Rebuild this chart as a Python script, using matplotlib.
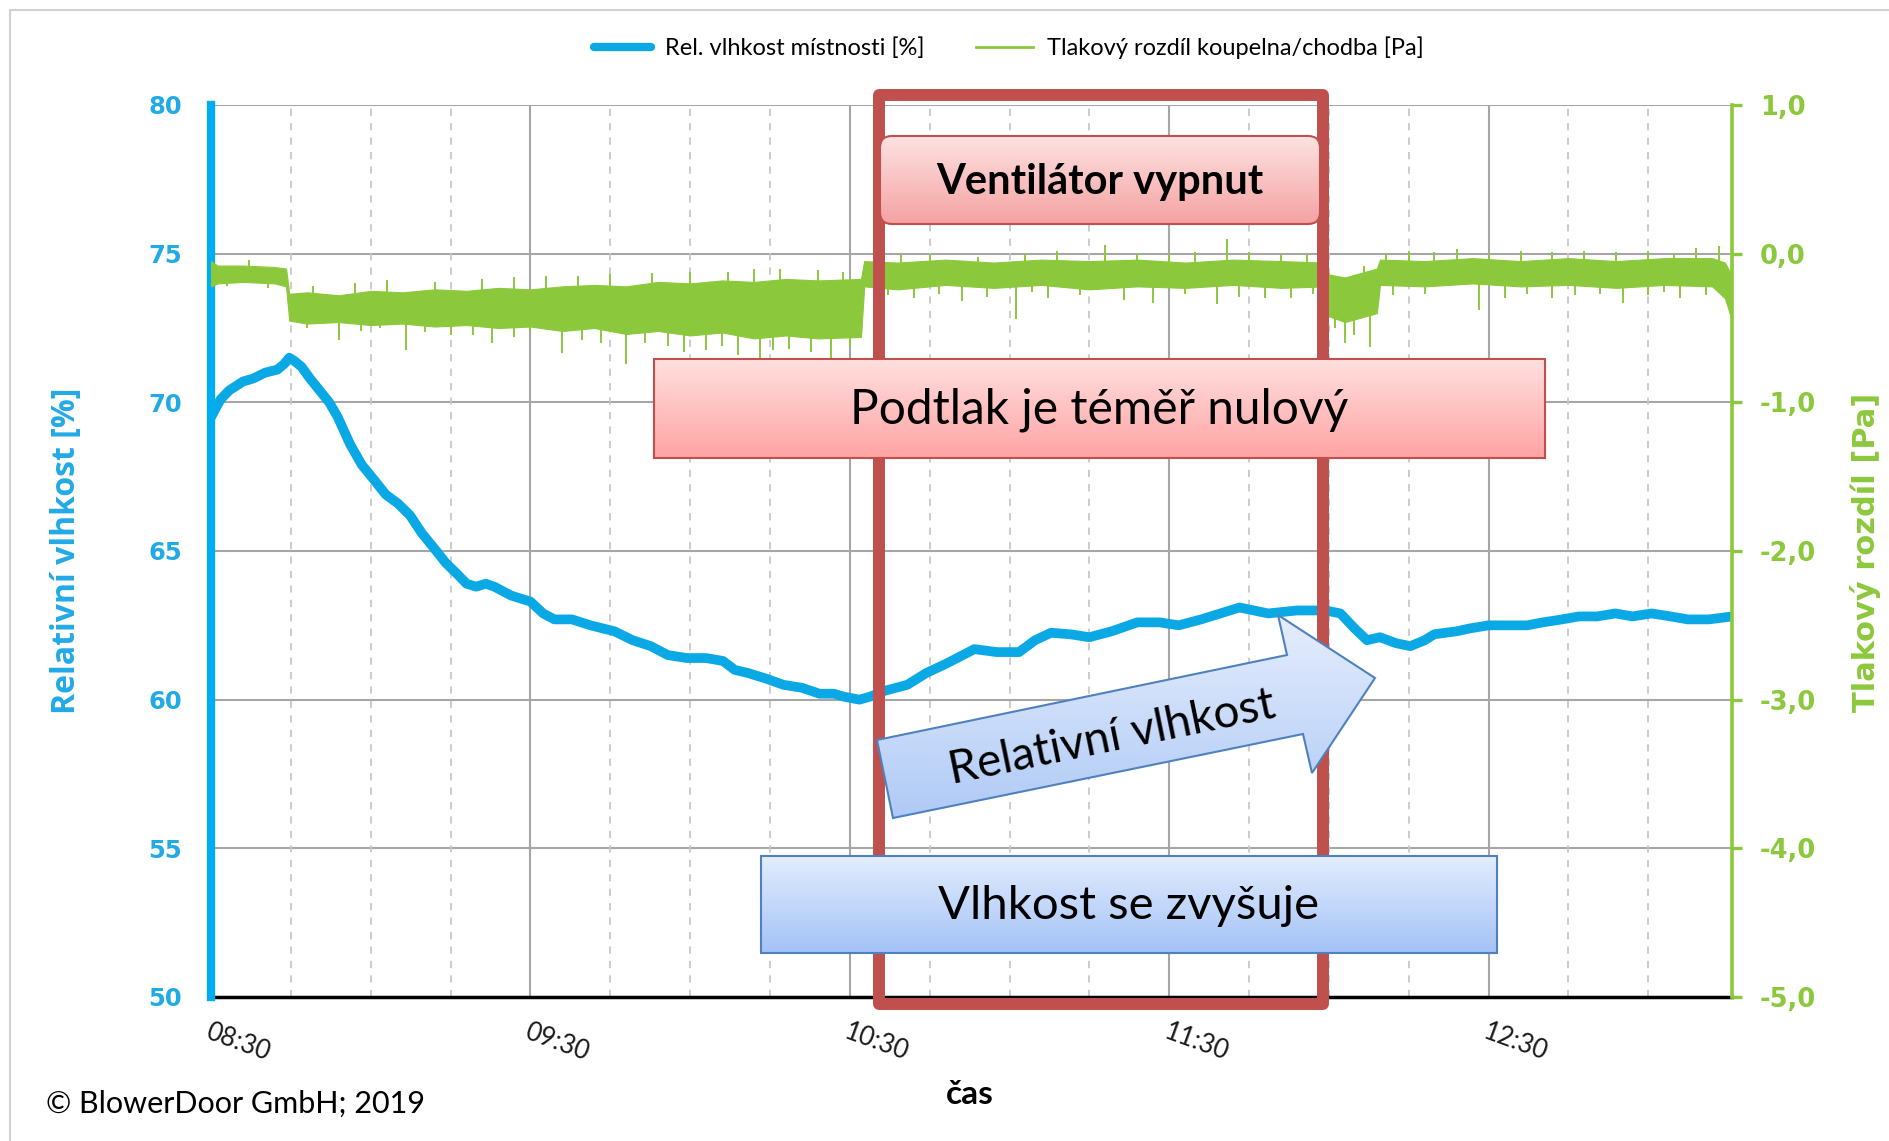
import numpy as np
import matplotlib
matplotlib.use("Agg")
import matplotlib.pyplot as plt
import matplotlib.colors as mcolors
import matplotlib.transforms as mtransforms
from matplotlib.lines import Line2D
from matplotlib.patches import Rectangle, FancyBboxPatch, Polygon

# ---------------- data ----------------
# time in decimal hours, relative humidity in %
rh_time = [8.500, 8.530, 8.557, 8.600, 8.632, 8.670, 8.708, 8.730, 8.745, 8.760,
           8.783, 8.810, 8.840, 8.870, 8.897, 8.935, 8.972, 9.010, 9.047, 9.085,
           9.123, 9.160, 9.198, 9.235, 9.273, 9.300, 9.330, 9.360, 9.387, 9.440,
           9.500, 9.540, 9.575, 9.630, 9.688, 9.763, 9.820, 9.877, 9.930, 9.990,
           10.050, 10.103, 10.140, 10.180, 10.240, 10.292, 10.350, 10.405, 10.450, 10.482,
           10.530, 10.563, 10.610, 10.680, 10.740, 10.800, 10.890, 10.960, 11.030, 11.080,
           11.130, 11.190, 11.250, 11.320, 11.400, 11.470, 11.530, 11.600, 11.660, 11.720,
           11.810, 11.900, 11.990, 12.036, 12.080, 12.119, 12.160, 12.210, 12.255, 12.300,
           12.330, 12.400, 12.443, 12.500, 12.557, 12.620, 12.670, 12.730, 12.783, 12.840,
           12.897, 12.950, 13.010, 13.070, 13.123, 13.190, 13.262]
rh_value = [69.5, 70.1, 70.4, 70.7, 70.8, 71.0, 71.1, 71.3, 71.5, 71.4,
            71.2, 70.8, 70.4, 70.0, 69.5, 68.6, 67.9, 67.4, 66.9, 66.6,
            66.2, 65.6, 65.1, 64.6, 64.2, 63.9, 63.8, 63.9, 63.8, 63.5,
            63.3, 62.9, 62.7, 62.7, 62.5, 62.3, 62.0, 61.8, 61.5, 61.4,
            61.4, 61.3, 61.0, 60.9, 60.7, 60.5, 60.4, 60.2, 60.2, 60.1,
            60.0, 60.1, 60.3, 60.5, 60.9, 61.2, 61.7, 61.6, 61.6, 62.0,
            62.25, 62.2, 62.1, 62.3, 62.6, 62.6, 62.5, 62.7, 62.9, 63.1,
            62.9, 63.0, 63.0, 62.9, 62.4, 62.0, 62.1, 61.9, 61.8, 62.0,
            62.2, 62.3, 62.4, 62.5, 62.5, 62.5, 62.6, 62.7, 62.8, 62.8,
            62.9, 62.8, 62.9, 62.8, 62.7, 62.7, 62.8]

# pressure difference bathroom/corridor [Pa]: noisy band (low / high envelope)
dp_time = [8.500, 8.520, 8.600, 8.700, 8.735,
           8.745, 8.800, 8.900, 9.000, 9.100, 9.200, 9.300, 9.400, 9.500, 9.600,
           9.700, 9.800, 9.900, 10.000, 10.100, 10.200, 10.300, 10.400, 10.535,
           10.545, 10.650, 10.800, 10.950, 11.100, 11.250, 11.400, 11.550, 11.700, 11.850, 11.990,
           12.000, 12.050, 12.100, 12.150,
           12.160, 12.300, 12.450, 12.600, 12.750, 12.900, 13.050, 13.200, 13.240, 13.262]
dp_low = [-0.22, -0.20, -0.19, -0.20, -0.22,
          -0.45, -0.47, -0.46, -0.48, -0.47, -0.49, -0.48, -0.50, -0.49, -0.52,
          -0.50, -0.54, -0.52, -0.55, -0.53, -0.57, -0.55, -0.57, -0.56,
          -0.22, -0.24, -0.21, -0.23, -0.21, -0.24, -0.22, -0.23, -0.21, -0.23, -0.22,
          -0.42, -0.46, -0.43, -0.40,
          -0.21, -0.22, -0.20, -0.22, -0.21, -0.23, -0.21, -0.22, -0.30, -0.45]
dp_high = [-0.05, -0.08, -0.08, -0.09, -0.10,
           -0.27, -0.26, -0.28, -0.25, -0.26, -0.24, -0.25, -0.23, -0.24, -0.22,
           -0.21, -0.22, -0.19, -0.20, -0.18, -0.19, -0.17, -0.18, -0.17,
           -0.05, -0.06, -0.04, -0.06, -0.04, -0.05, -0.04, -0.06, -0.04, -0.05, -0.06,
           -0.14, -0.16, -0.13, -0.10,
           -0.04, -0.05, -0.03, -0.05, -0.03, -0.05, -0.03, -0.03, -0.06, -0.15]
# individual downward spikes of the noisy signal
spike_down_time = [8.55, 8.68, 8.80, 8.85, 8.90, 8.97, 9.03, 9.11, 9.17, 9.25,
                   9.32, 9.38, 9.45, 9.50, 9.60, 9.66, 9.72, 9.80, 9.86, 9.93,
                   9.98, 10.05, 10.10, 10.15, 10.22, 10.26, 10.31, 10.38, 10.44, 10.50,
                   10.62, 10.70, 10.78, 10.85, 10.93, 11.02, 11.07, 11.12, 11.22, 11.36,
                   11.45, 11.55, 11.65, 11.72, 11.80, 11.88, 11.95, 12.02, 12.05, 12.08,
                   12.13, 12.20, 12.30, 12.47, 12.55, 12.62, 12.70, 12.77, 12.85, 12.92,
                   13.00, 13.05, 13.10, 13.18]
spike_down_value = [-0.22, -0.23, -0.50, -0.47, -0.58, -0.52, -0.50, -0.65, -0.53, -0.55,
                    -0.55, -0.60, -0.56, -0.52, -0.67, -0.58, -0.60, -0.74, -0.60, -0.62,
                    -0.66, -0.65, -0.62, -0.68, -0.70, -0.65, -0.64, -0.66, -0.70, -0.63,
                    -0.28, -0.30, -0.27, -0.32, -0.29, -0.44, -0.26, -0.30, -0.28, -0.31,
                    -0.33, -0.27, -0.34, -0.29, -0.30, -0.30, -0.27, -0.50, -0.60, -0.55,
                    -0.63, -0.28, -0.27, -0.38, -0.30, -0.27, -0.30, -0.28, -0.27, -0.33,
                    -0.28, -0.26, -0.30, -0.28]
# individual upward spikes
spike_up_time = [8.62, 8.82, 8.95, 9.05, 9.20, 9.35, 9.45, 9.55, 9.65, 9.75,
                 9.88, 10.00, 10.12, 10.20, 10.28, 10.40, 10.48, 10.60, 10.66, 10.75,
                 10.90, 11.05, 11.15, 11.30, 11.40, 11.50, 11.58, 11.68, 11.75, 11.85,
                 11.93, 12.11, 12.18, 12.25, 12.33, 12.40, 12.50, 12.60, 12.70, 12.80,
                 12.90, 13.00, 13.08, 13.15, 13.22]
spike_up_value = [-0.04, -0.22, -0.20, -0.18, -0.19, -0.17, -0.16, -0.15, -0.15, -0.14,
                  -0.13, -0.12, -0.12, -0.10, -0.10, -0.11, -0.12, 0.00, -0.01, 0.00,
                  -0.02, 0.00, 0.02, 0.06, 0.00, 0.00, 0.01, 0.10, 0.01, -0.01,
                  0.00, -0.08, 0.00, 0.02, 0.01, 0.03, 0.00, 0.02, 0.01, 0.02,
                  0.01, 0.02, 0.00, 0.04, 0.05]

x_tick_pos = [8.5, 9.5, 10.5, 11.5, 12.5]
x_tick_labels = ["08:30", "09:30", "10:30", "11:30", "12:30"]
rh_ticks = [50, 55, 60, 65, 70, 75, 80]
dp_ticks = [-5, -4, -3, -2, -1, 0, 1]
dp_tick_labels = ["-5,0", "-4,0", "-3,0", "-2,0", "-1,0", "0,0", "1,0"]
fan_off_start, fan_off_end = 10.59, 11.98

# ---------------- styling ----------------
BLUE = "#0aa9e6"
BLUE_TXT = "#22aae6"
GREEN = "#8cc83c"
RED = "#c0504d"
CAL = ["Lato", "DejaVu Sans"]
OPEN = ["Open Sans", "DejaVu Sans"]

W, H = 1890, 1141
fig = plt.figure(figsize=(W / 100, H / 100), dpi=100)
L, R, T, B = 211, 1732, 105, 997
ax = fig.add_axes([L / W, 1 - B / H, (R - L) / W, (B - T) / H])
ax2 = ax.twinx()
ax.set_xlim(8.5, 13.262)
ax.set_ylim(50, 80)
ax2.set_ylim(-5, 1)
ax2.patch.set_visible(False)

# grid
for y in rh_ticks[1:]:
    ax.axhline(y, color="#a6a6a6", lw=1.5, zorder=0)
for h in np.arange(8.75, 13.25, 0.25):
    if abs(h - round(h - 0.5) - 0.5) < 1e-6:
        ax.axvline(h, color="#a6a6a6", lw=1.5, zorder=0)
    else:
        ax.axvline(h, color="#c8c8c8", lw=1.3, ls=(0, (4, 4)), zorder=0)

# pressure series
mid = [(a + b) / 2 for a, b in zip(dp_low, dp_high)]
ax2.fill_between(dp_time, dp_low, dp_high, color=GREEN, lw=0.8, zorder=2)
ax2.plot(dp_time, mid, color=GREEN, lw=1.0, zorder=2)
ax2.vlines(spike_down_time, np.interp(spike_down_time, dp_time, mid), spike_down_value,
           color=GREEN, lw=1.4, zorder=2)
ax2.vlines(spike_up_time, np.interp(spike_up_time, dp_time, mid), spike_up_value,
           color=GREEN, lw=1.4, zorder=2)

# humidity series
ax.plot(rh_time, rh_value, color=BLUE, lw=7, solid_capstyle="round",
        solid_joinstyle="round", zorder=3)

# spines
for s in ["top", "right"]:
    ax.spines[s].set_visible(False)
for s in ["top", "left", "bottom"]:
    ax2.spines[s].set_visible(False)
ax.spines["left"].set_color("#00aeef")
ax.spines["left"].set_linewidth(6)
ax.spines["left"].set_zorder(5)
ax.spines["bottom"].set_color("black")
ax.spines["bottom"].set_linewidth(2.5)
ax2.spines["right"].set_color(GREEN)
ax2.spines["right"].set_linewidth(2.6)

# ticks
ax.set_yticks(rh_ticks)
ax.tick_params(axis="y", length=0, pad=21, labelcolor=BLUE_TXT, labelsize=17.5)
for lb in ax.get_yticklabels():
    lb.set_fontweight("bold")
ax2.set_yticks(dp_ticks, dp_tick_labels)
ax2.tick_params(axis="y", colors=GREEN, length=7, width=2.4, direction="out",
                pad=13, labelsize=18.5)
for lb in ax2.get_yticklabels():
    lb.set_fontweight("bold")
ax.set_xticks(x_tick_pos, x_tick_labels)
ax.tick_params(axis="x", length=0, pad=16)
for lb in ax.get_xticklabels():
    lb.set_rotation(-20)
    lb.set_ha("left")
    lb.set_rotation_mode("anchor")
    lb.set_family(CAL)
    lb.set_fontsize(18.5)
    lb.set_color("#1a1a1a")

# fan-off frame
trans = mtransforms.blended_transform_factory(ax2.transData, ax2.transAxes)
frame = Rectangle((fan_off_start, -0.008), fan_off_end - fan_off_start, 1.019,
                  transform=trans, fill=False, ec=RED, lw=8.6, joinstyle="round",
                  clip_on=False, zorder=6)
ax2.add_patch(frame)

# axis labels / texts
fig.text(67 / W, 1 - 551 / H, "Relativní vlhkost [%]", rotation=90, ha="center",
         va="center", color=BLUE_TXT, fontsize=23, fontweight="bold", family=OPEN)
fig.text(1866 / W, 1 - 552 / H, "Tlakový rozdíl [Pa]", rotation=90, ha="center",
         va="center", color=GREEN, fontsize=22, fontweight="bold", family=["DejaVu Sans"])
fig.text(970 / W, 1 - 1094 / H, "čas", ha="center", va="center", fontsize=24,
         fontweight="bold", family=CAL)
fig.text(46 / W, 1 - 1104 / H, "© BlowerDoor GmbH; 2019", ha="left", va="center",
         fontsize=22, family=CAL)

handles = [Line2D([], [], color=BLUE, lw=6, solid_capstyle="round"),
           Line2D([], [], color=GREEN, lw=2)]
fig.legend(handles, ["Rel. vlhkost místnosti [%]", "Tlakový rozdíl koupelna/chodba [Pa]"],
           loc="center", bbox_to_anchor=(1009 / W, 1 - 48 / H), ncol=2, frameon=False,
           prop={"family": CAL, "size": 17}, handlelength=2.4, handletextpad=0.6,
           columnspacing=2.2)

# ---------------- overlay annotations ----------------
ov = fig.add_axes([0, 0, 1, 1], zorder=10)
ov.patch.set_visible(False)
ov.axis("off")


def grad_fill(patch, top, bottom, x0, x1, y0, y1):
    c0 = np.array(mcolors.to_rgb(top))
    c1 = np.array(mcolors.to_rgb(bottom))
    g = np.linspace(0, 1, 256)[:, None, None]
    img = c0 * (1 - g) + c1 * g
    ov.add_patch(patch)
    im = ov.imshow(img, extent=(x0, x1, y1, y0), aspect="auto",
                   interpolation="bilinear", zorder=patch.get_zorder() - 0.5)
    im.set_clip_path(patch)


# Ventilátor vypnut
p = FancyBboxPatch((880, 136), 440, 88, boxstyle="round,pad=0,rounding_size=12",
                   fc="none", ec=RED, lw=1.5, zorder=3)
grad_fill(p, "#fde2e2", "#f5a2a2", 880, 1320, 136, 224)
ov.text(1100, 182, "Ventilátor vypnut", ha="center", va="center", fontsize=30,
        fontweight="bold", family=CAL, zorder=5)

# Podtlak je téměř nulový
p = Rectangle((654, 359), 891, 99, fc="none", ec=RED, lw=1.5, zorder=3)
grad_fill(p, "#ffe0e0", "#ffa3a3", 654, 1545, 359, 458)
ov.text(1099, 410, "Podtlak je téměř nulový", ha="center", va="center",
        fontsize=34.5, family=CAL, zorder=5)

# Vlhkost se zvyšuje
p = Rectangle((761, 856), 736, 97, fc="none", ec="#4f81bd", lw=1.5, zorder=3)
grad_fill(p, "#e3edfd", "#a3c2f7", 761, 1497, 856, 953)
ov.text(1129, 906, "Vlhkost se zvyšuje", ha="center", va="center",
        fontsize=34, family=CAL, zorder=5)

# arrow
arrow_pts = [(893, 818), (877, 740), (1287, 655), (1278, 615), (1375, 678),
             (1312, 773), (1303, 734)]
p = Polygon(arrow_pts, closed=True, fc="none", ec="#4f81bd", lw=1.5, zorder=3)
grad_fill(p, "#e6eefd", "#afcaf6", 877, 1375, 615, 818)
ov.text(1112, 738, "Relativní vlhkost", ha="center", va="center", rotation=11.6,
        rotation_mode="anchor", fontsize=33, family=CAL, zorder=5)

# outer border
ov.plot([10, 10, W], [H, 10, 10], color="#d0d0d0", lw=1.5)

ov.set_xlim(0, W)
ov.set_ylim(H, 0)

fig.savefig("out.png", dpi=100)
